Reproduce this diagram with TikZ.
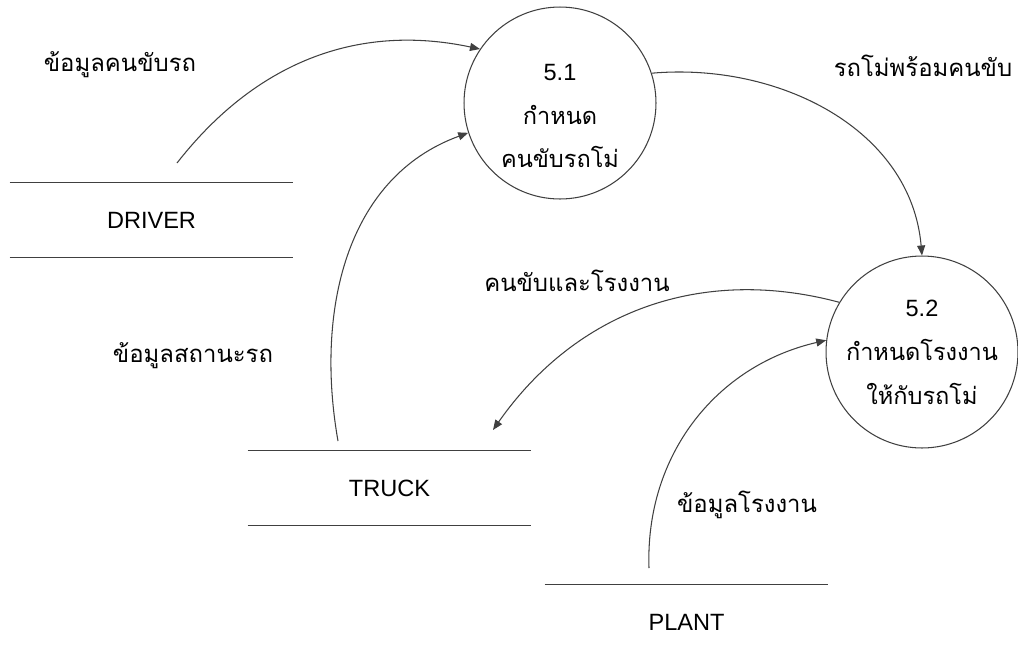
\documentclass[tikz,border=0pt]{standalone}
\usepackage{fontspec}
\setmainfont{Liberation Sans}
\newfontfamily\thaifont[Script=Thai]{Loma}
\usetikzlibrary{arrows.meta}

\begin{document}
\begin{tikzpicture}[x=0.02cm, y=0.02cm,
    process/.style={draw=black!75, line width=0.6pt, circle, minimum size=3.84cm,
        inner sep=0pt, align=center, font=\fontsize{13.4}{25}\selectfont},
    store/.style={minimum width=5.66cm, minimum height=1.48cm, inner sep=0pt,
        font=\fontsize{13.4}{16}\selectfont},
    storeline/.style={draw=black!75, line width=0.6pt},
    flow/.style={draw=black!75, line width=0.6pt, -{Triangle[length=2mm, width=1.6mm]}},
    lbl/.style={font=\fontsize{13.6}{16}\selectfont\thaifont, inner sep=0pt}]
    \useasboundingbox (0,0) rectangle (1018,-653);

    % processes
    \node[process] (p51) at (560,-103) {\rule{0pt}{24pt}5.1\\{\thaifont กำหนด}\\{\thaifont คนขับรถโม่}};
    \node[process] (p52) at (922,-352) {5.2\\{\thaifont กำหนดโรงงาน}\\{\thaifont ให้กับรถโม่}};

    % data stores
    \node[store] (driver) at (151.5,-220) {DRIVER};
    \node[store] (truck) at (389.5,-488) {TRUCK};
    \node[store] (plant) at (686.5,-622) {PLANT};
    \draw[storeline] (driver.north west) -- (driver.north east);
    \draw[storeline] (driver.south west) -- (driver.south east);
    \draw[storeline] (truck.north west) -- (truck.north east);
    \draw[storeline] (truck.south west) -- (truck.south east);
    \draw[storeline] (plant.north west) -- (plant.north east);

    % free ends near the stores
    \coordinate (dsrc) at (177,-163);
    \coordinate (tsrc) at (338,-441);
    \coordinate (tdst) at (493,-430);
    \coordinate (psrc) at (649,-568);

    % flows
    \draw[flow] (dsrc) to[out=52, in=168] (p51.146);
    \draw[flow] (tsrc) to[out=100, in=200] (p51.198);
    \draw[flow] (p51.18) to[out=5, in=95] (p52.north);
    \draw[flow] (p52.149) to[out=165, in=55] (tdst);
    \draw[flow] (psrc) to[out=92, in=193] (p52.173);

    % flow labels
    \node[lbl] (ldriver) at (120,-65) {ข้อมูลคนขับรถ};
    \node[lbl] (lready) at (923,-66) {รถโม่พร้อมคนขับ};
    \node[lbl] (lassign) at (577,-281) {คนขับและโรงงาน};
    \node[lbl] (lstatus) at (193,-356) {ข้อมูลสถานะรถ};
    \node[lbl] (lplant) at (747,-505) {ข้อมูลโรงงาน};
\end{tikzpicture}
\end{document}
